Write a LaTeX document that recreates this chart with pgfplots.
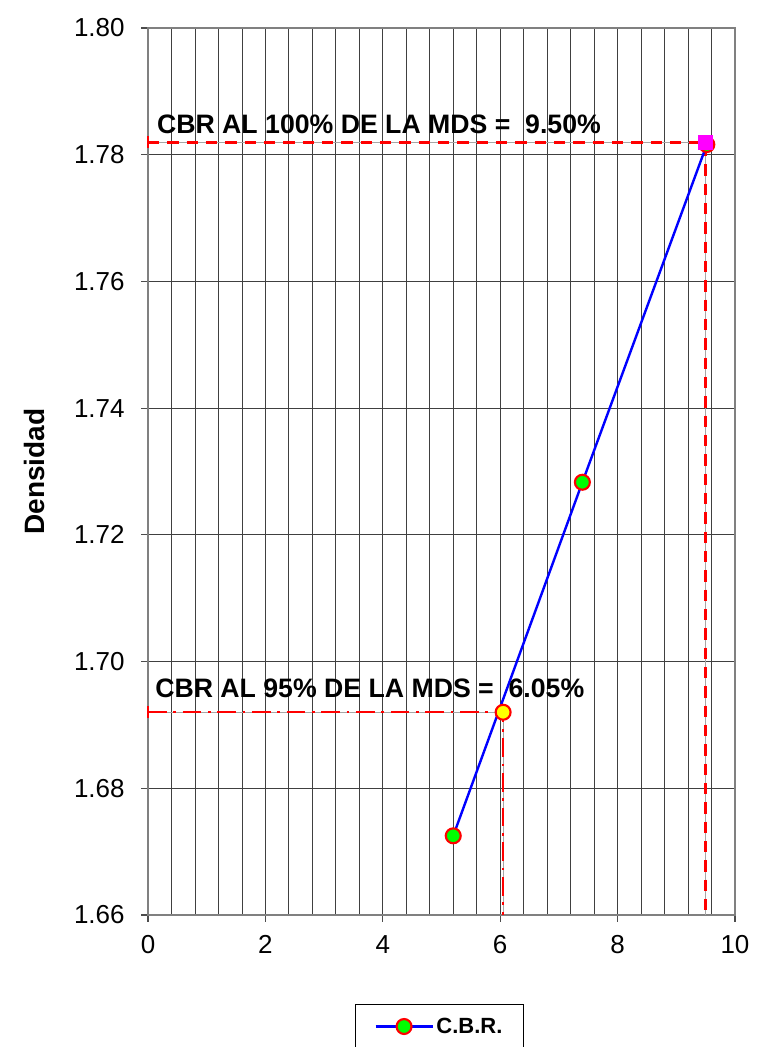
\documentclass[border=0pt]{standalone}
\usepackage{pgfplots}
\pgfplotsset{compat=1.18}
\usepackage{fontspec}
\setmainfont{Liberation Sans}
\definecolor{cbrblue}{RGB}{0,0,255}
\definecolor{cbrgreen}{RGB}{0,255,0}
\definecolor{cbrred}{RGB}{255,0,0}
\definecolor{cbryellow}{RGB}{255,255,0}
\definecolor{cbrpink}{RGB}{255,0,255}
\begin{document}
\begin{tikzpicture}[x=0.75pt,y=0.75pt]
\useasboundingbox (-148,-132) rectangle (610,915);
\begin{axis}[
  at={(0,0)}, anchor=origin,
  scale only axis,
  width=440.25pt, height=665.25pt,
  xmin=0, xmax=10, ymin=1.66, ymax=1.80,
  xtick={0,2,...,10},
  minor xtick={0,0.4,...,10},
  ytick={1.66,1.68,...,1.80},
  y tick label style={/pgf/number format/fixed, /pgf/number format/fixed zerofill,
    /pgf/number format/precision=2},
  xmajorgrids, xminorgrids, ymajorgrids,
  grid style={black!75, line width=0.6pt},
  minor grid style={black!75, line width=0.6pt},
  axis line style={black!50, line width=0.8pt},
  tick align=outside,
  major tick length=5pt, minor tick length=0pt,
  tick style={black!70, line width=0.8pt},
  xtick pos=bottom, ytick pos=left,
  /pgf/number format/assume math mode=true,
  ticklabel style={font=\fontsize{19.5}{22}\selectfont},
  xticklabel style={yshift=-7pt},
  yticklabel style={xshift=-9pt},
  ylabel={\textbf{Densidad}},
  ylabel style={font=\fontsize{21}{24}\selectfont, yshift=15pt},
  legend style={at={(0.497,-0.1003)}, anchor=north, draw=black, line width=0.8pt,
    font=\fontsize{16.5}{19}\selectfont\bfseries, inner xsep=14pt, inner ysep=8pt},
  legend image code/.code={\draw[mark repeat=2,mark phase=2]
    plot coordinates {(0cm,0cm) (0.75cm,0cm) (1.5cm,0cm)};},
  clip=false,
]
% thin gray guides beneath the red construction lines
\addplot[forget plot, black!35, line width=0.6pt] coordinates {(0,1.782) (9.50,1.782) (9.50,1.66)};
\addplot[forget plot, black!35, line width=0.6pt] coordinates {(0,1.692) (6.05,1.692) (6.05,1.66)};
% CBR at 100% of max dry density
\addplot[forget plot, cbrred, line width=2.2pt, dash pattern=on 8.5pt off 6pt]
  coordinates {(0,1.782) (9.50,1.782) (9.50,1.66)};
% CBR at 95% of max dry density
\addplot[forget plot, cbrred, line width=1.8pt, dash pattern=on 14pt off 5pt on 2pt off 5pt]
  coordinates {(0,1.692) (6.05,1.692) (6.05,1.66)};
% end caps at the density axis
\addplot[forget plot, only marks, mark=|, mark size=4.5pt, mark options={cbrred, line width=1.2pt}]
  coordinates {(0,1.782) (0,1.692)};
% measured C.B.R. points
\addplot[cbrblue, line width=1.8pt, mark=*, mark size=5.6pt,
  mark options={fill=cbrgreen, draw=cbrred, line width=1.6pt}]
  coordinates {(5.20,1.6725) (7.40,1.7283) (9.52,1.7816)};
\addlegendentry{C.B.R.}
\addplot[forget plot, only marks, mark=square*, mark size=5.3pt,
  mark options={fill=cbrpink, draw=cbrpink}]
  coordinates {(9.50,1.782)};
\addplot[forget plot, only marks, mark=*, mark size=5.6pt,
  mark options={fill=cbryellow, draw=cbrred, line width=1.6pt}]
  coordinates {(6.05,1.692)};
\node[anchor=base west, inner sep=0pt, font=\fontsize{20}{23}\selectfont\bfseries]
  at (axis cs:0.15,1.7833) {CBR AL 100\% DE LA MDS =\ \ 9.50\%};
\node[anchor=base west, inner sep=0pt, font=\fontsize{20}{23}\selectfont\bfseries]
  at (axis cs:0.12,1.6943) {CBR AL 95\% DE LA MDS =\ \ 6.05\%};
\end{axis}
\end{tikzpicture}
\end{document}
